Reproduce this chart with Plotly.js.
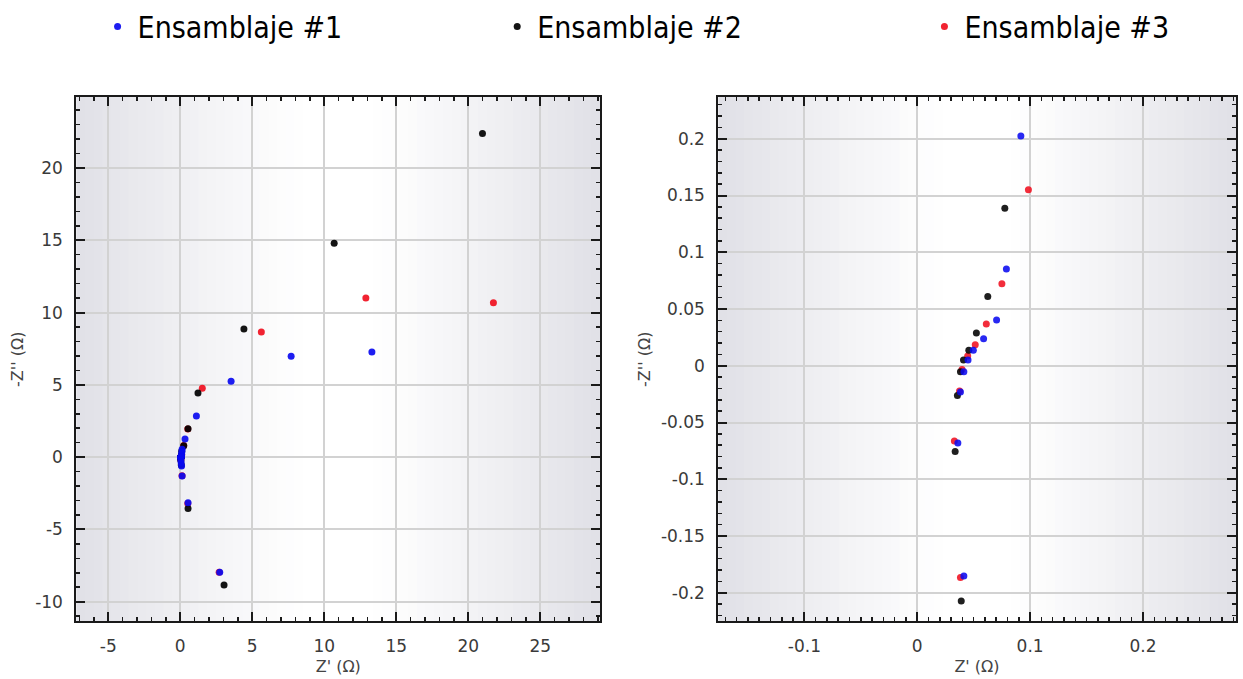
<!DOCTYPE html>
<html>
<head>
<meta charset="utf-8">
<script src="https://cdn.plot.ly/plotly-3.0.1.min.js"></script>
<style>html,body{margin:0;padding:0;background:#fff;}#chart{width:1243px;height:679px;}</style>
</head>
<body>
<div id="chart"></div>
<script>
// ---------- data ----------
const seriesNames = ["Ensamblaje #1", "Ensamblaje #2", "Ensamblaje #3"];
const seriesColors = ["#0a0af0", "#000000", "#f01020"];

// Ensamblaje #1 (blue)
const e1_re = [13.31, 7.70, 3.53, 1.12, 0.33, 0.13, 0.11, 0.0918, 0.079, 0.0703, 0.0588, 0.0497, 0.045, 0.0413, 0.0383, 0.036, 0.06, 0.0413, 0.09, 0.13, 0.54, 2.74];
const e1_im = [7.28, 6.97, 5.25, 2.85, 1.25, 0.55, 0.35, 0.2025, 0.0852, 0.0404, 0.0239, 0.0136, 0.005, -0.0053, -0.0232, -0.068, -0.38, -0.1853, -0.62, -1.30, -3.16, -7.97];
// Ensamblaje #2 (black)
const e2_re = [20.99, 10.69, 4.42, 1.23, 0.54, 0.24, 0.10, 0.0776, 0.0625, 0.0524, 0.0457, 0.041, 0.0383, 0.0356, 0.0336, 0.039, 0.07, 0.54, 3.04];
const e2_im = [22.38, 14.79, 8.86, 4.44, 1.96, 0.78, 0.40, 0.1389, 0.061, 0.0288, 0.0136, 0.005, -0.0053, -0.0262, -0.0756, -0.2072, -0.55, -3.55, -8.85];
// Ensamblaje #3 (red)
const e3_re = [21.75, 12.89, 5.63, 1.53, 0.52, 0.24, 0.0985, 0.075, 0.0612, 0.0514, 0.0447, 0.0397, 0.0375, 0.0329, 0.0383, 0.12, 0.52, 2.70];
const e3_im = [10.68, 11.00, 8.66, 4.76, 1.95, 0.80, 0.155, 0.0723, 0.0368, 0.0186, 0.0086, -0.0033, -0.0222, -0.0663, -0.1866, -1.28, -3.20, -7.97];

// tick labels
const left_xtickvals = [-5, 0, 5, 10, 15, 20, 25];
const left_xticktext = ["-5", "0", "5", "10", "15", "20", "25"];
const left_ytickvals = [-10, -5, 0, 5, 10, 15, 20];
const left_yticktext = ["-10", "-5", "0", "5", "10", "15", "20"];
const right_xtickvals = [-0.1, 0, 0.1, 0.2];
const right_xticktext = ["-0.1", "0", "0.1", "0.2"];
const right_ytickvals = [-0.2, -0.15, -0.1, -0.05, 0, 0.05, 0.1, 0.15, 0.2];
const right_yticktext = ["-0.2", "-0.15", "-0.1", "-0.05", "0", "0.05", "0.1", "0.15", "0.2"];

const xTitle = "Z' (Ω)";
const yTitle = "-Z'' (Ω)";

// ---------- traces ----------
const allRe = [e1_re, e2_re, e3_re];
const allIm = [e1_im, e2_im, e3_im];
const legendIds = ["legend", "legend2", "legend3"];
const drawOrder = [2, 1, 0]; // red below, black, blue on top
const traces = [];
drawOrder.forEach(i => {
  traces.push({
    type: "scatter", mode: "markers", name: seriesNames[i],
    x: allRe[i], y: allIm[i], xaxis: "x", yaxis: "y",
    marker: {color: seriesColors[i], size: 7, opacity: 0.92},
    legend: legendIds[i], showlegend: true, hoverinfo: "x+y"
  });
  traces.push({
    type: "scatter", mode: "markers", name: seriesNames[i],
    x: allRe[i], y: allIm[i], xaxis: "x2", yaxis: "y2",
    marker: {color: seriesColors[i], size: 7, opacity: 0.88},
    showlegend: false, hoverinfo: "x+y"
  });
});

// ---------- background gradient (strips) ----------
const shapes = [];
const N = 60;
function grad(f) {
  const t = Math.abs(f - 0.5) / 0.5;
  let a = t < 0.12 ? 0 : Math.pow((t - 0.12) / 0.88, 1.15);
  const edge = [224, 224, 230];
  const c = edge.map(e => Math.round(255 * (1 - a) + e * a));
  return "rgb(" + c.join(",") + ")";
}
[["x domain", "y domain"], ["x2 domain", "y2 domain"]].forEach(([xr, yr]) => {
  for (let k = 0; k < N; k++) {
    const f0 = k / N, f1 = (k + 1) / N;
    shapes.push({type: "rect", xref: xr, yref: yr, x0: f0, x1: f1 + 0.002, y0: 0, y1: 1,
      fillcolor: grad((f0 + f1) / 2), line: {width: 0}, layer: "below"});
  }
});

// ---------- axes ----------
const tickFont = {family: "DejaVu Sans, sans-serif", size: 17, color: "#3a3a3a"};
const titleFont = {family: "DejaVu Sans, sans-serif", size: 16, color: "#444"};
function axis(extra) {
  return Object.assign({
    showline: true, linecolor: "#1a1a1a", linewidth: 2, mirror: "ticks",
    ticks: "inside", ticklen: 9, tickwidth: 2, tickcolor: "#1a1a1a",
    showgrid: true, gridcolor: "#d2d2d2", gridwidth: 2, zeroline: false,
    tickfont: tickFont, tickmode: "array", ticklabelstandoff: 8,
    automargin: false, fixedrange: true
  }, extra);
}
const yDom = [0.0847, 0.8571];

const layout = {
  width: 1243, height: 679,
  margin: {l: 0, r: 0, t: 0, b: 0},
  paper_bgcolor: "#ffffff", plot_bgcolor: "#ffffff",
  showlegend: true,
  xaxis: axis({domain: [0.0614, 0.4829], range: [-7.22, 29.17], anchor: "y",
    tickvals: left_xtickvals, ticktext: left_xticktext,
    minor: {ticks: "inside", ticklen: 4, tickwidth: 1.5, tickcolor: "#1a1a1a", dtick: 1, tick0: 0, showgrid: false},
    title: {text: xTitle, font: titleFont, standoff: 6}}),
  yaxis: axis({domain: yDom, range: [-11.37, 24.91], anchor: "x",
    tickvals: left_ytickvals, ticktext: left_yticktext,
    minor: {ticks: "inside", ticklen: 4, tickwidth: 1.5, tickcolor: "#1a1a1a", dtick: 1, tick0: 0, showgrid: false},
    title: {text: yTitle, font: titleFont, standoff: 8}}),
  xaxis2: axis({domain: [0.5779, 0.9941], range: [-0.1762, 0.2821], anchor: "y2",
    tickvals: right_xtickvals, ticktext: right_xticktext,
    minor: {ticks: "inside", ticklen: 4, tickwidth: 1.5, tickcolor: "#1a1a1a", dtick: 0.01, tick0: 0, showgrid: false},
    title: {text: xTitle, font: titleFont, standoff: 6}}),
  yaxis2: axis({domain: yDom, range: [-0.2253, 0.2368], anchor: "x2",
    tickvals: right_ytickvals, ticktext: right_yticktext,
    minor: {ticks: "inside", ticklen: 4, tickwidth: 1.5, tickcolor: "#1a1a1a", dtick: 0.01, tick0: 0, showgrid: false},
    title: {text: yTitle, font: titleFont, standoff: 6}}),
  shapes: shapes
};
const legFont = {family: "Liberation Sans Narrow, DejaVu Sans Condensed, sans-serif", size: 30, color: "#000"};
const legXs = [0.0785, 0.4, 0.7437];
legendIds.forEach((id, i) => {
  layout[id] = {x: legXs[i], y: 0.961, xanchor: "left", yanchor: "middle",
    orientation: "h", font: legFont, bgcolor: "rgba(0,0,0,0)", itemwidth: 30,
    itemsizing: "trace"};
});

Plotly.newPlot("chart", traces, layout, {displayModeBar: false, staticPlot: true});
</script>
</body>
</html>
